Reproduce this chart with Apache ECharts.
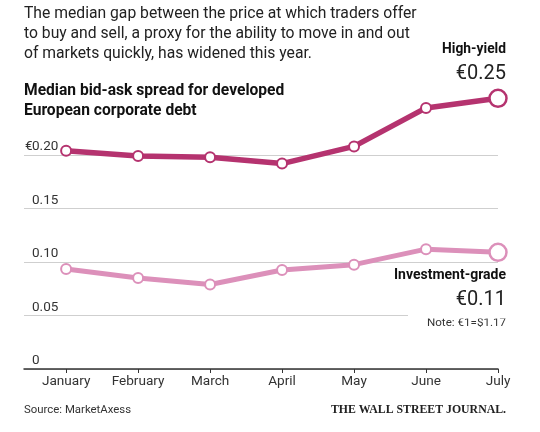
<!DOCTYPE html>
<html>
<head>
<meta charset="utf-8">
<script src="https://cdn.jsdelivr.net/npm/echarts@6/dist/echarts.min.js"></script>
<style>
  html, body { margin: 0; padding: 0; background: #fff; }
  #chart { width: 540px; height: 432px; }
</style>
</head>
<body>
<div id="chart"></div>
<script>
// data
const months = ['January', 'February', 'March', 'April', 'May', 'June', 'July'];
const highYield = [0.204, 0.199, 0.198, 0.192, 0.208, 0.244, 0.253];
const investGrade = [0.0935, 0.085, 0.079, 0.0925, 0.0975, 0.112, 0.109];
const yTicks = [0, 0.05, 0.1, 0.15, 0.2];

const hyColor = '#b5336f';
const igColor = '#dc90ba';
const font = 'Roboto, "Noto Sans", sans-serif';

const chart = echarts.init(document.getElementById('chart'));

// turn a series into [index, value] pairs, last point gets the big hollow marker
function toPoints(values, color) {
  return values.map(function (v, i) {
    const p = { value: [i, v] };
    if (i === values.length - 1) {
      p.symbolSize = 17;
      p.itemStyle = { color: '#fff', borderColor: color, borderWidth: 2.5 };
    }
    return p;
  });
}

function lineSeries(name, values, color, width) {
  return {
    name: name,
    type: 'line',
    clip: false,
    data: toPoints(values, color),
    symbol: 'circle',
    symbolSize: 10,
    showAllSymbol: true,
    lineStyle: { color: color, width: width },
    itemStyle: { color: '#fff', borderColor: color, borderWidth: 2 },
    emphasis: { disabled: true },
    z: 3
  };
}

const last = function (arr) { return arr[arr.length - 1]; };

chart.setOption({
  animation: false,
  backgroundColor: '#fff',
  grid: { left: 24, right: 42, top: 155, bottom: 63 },
  xAxis: {
    type: 'value',
    min: -0.585,
    max: months.length - 1,
    splitLine: { show: false },
    axisLine: { show: true, lineStyle: { color: '#333', width: 1.5 } },
    axisTick: {
      show: true,
      length: 4,
      customValues: months.map(function (m, i) { return i; }),
      lineStyle: { color: '#333', width: 1 }
    },
    axisLabel: {
      customValues: months.map(function (m, i) { return i; }),
      formatter: function (v) { return months[Math.round(v)] || ''; },
      color: '#333',
      fontFamily: font,
      fontSize: 13.6,
      margin: 6
    }
  },
  yAxis: {
    type: 'value',
    min: 0,
    max: 0.2,
    interval: 0.05,
    axisLine: { show: false },
    axisTick: { show: false },
    splitLine: { lineStyle: { color: '#cfcfcf', width: 1 } },
    axisLabel: {
      inside: true,
      margin: 8,
      align: 'left',
      verticalAlign: 'bottom',
      padding: [0, 0, 1, 0],
      color: '#333',
      fontFamily: font,
      fontSize: 13.5,
      formatter: function (v) {
        if (v === 0) return '0';
        return v.toFixed(2);
      }
    }
  },
  series: [
    lineSeries('Investment-grade', investGrade, igColor, 5),
    lineSeries('High-yield', highYield, hyColor, 5.5)
  ]
});

// euro sign hangs to the left of the top tick label; cover the 0.05 line under the note
const yTop = chart.convertToPixel({ yAxisIndex: 0 }, last(yTicks));
const y05 = chart.convertToPixel({ yAxisIndex: 0 }, yTicks[1]);

chart.setOption({
  graphic: [
    {
      type: 'text', left: 24, top: 4,
      style: {
        text: 'The median gap between the price at which traders offer\nto buy and sell, a proxy for the ability to move in and out\nof markets quickly, has widened this year.',
        font: '15.7px ' + font, fill: '#222', lineHeight: 20
      }
    },
    {
      type: 'text', left: 24, top: 81,
      style: {
        text: 'Median bid-ask spread for developed\nEuropean corporate debt',
        font: 'bold 15.6px ' + font, fill: '#111', lineHeight: 20
      }
    },
    {
      type: 'text', x: 32.5, y: yTop - 1,
      style: { text: '€', font: '13.5px ' + font, fill: '#333', align: 'right', verticalAlign: 'bottom' }
    },
    {
      type: 'rect', x: 408, y: y05 - 3, z: 1,
      shape: { width: 100, height: 6 },
      style: { fill: '#fff' }
    },
    {
      type: 'text', x: 506, y: 50,
      style: { text: 'High-yield', font: 'bold 13.8px ' + font, fill: '#111', align: 'right', verticalAlign: 'middle' }
    },
    {
      type: 'text', x: 506, y: 74,
      style: { text: '€' + last(highYield).toFixed(2), font: '20px ' + font, fill: '#222', align: 'right', verticalAlign: 'middle' }
    },
    {
      type: 'text', x: 506, y: 275,
      style: { text: 'Investment-grade', font: 'bold 14px ' + font, fill: '#111', align: 'right', verticalAlign: 'middle' }
    },
    {
      type: 'text', x: 506, y: 300,
      style: { text: '€' + last(investGrade).toFixed(2), font: '20px ' + font, fill: '#222', align: 'right', verticalAlign: 'middle' }
    },
    {
      type: 'text', x: 506, y: 323,
      style: { text: 'Note: €1=$1.17', font: '11.6px ' + font, fill: '#333', align: 'right', verticalAlign: 'middle' }
    },
    {
      type: 'text', x: 24, y: 410,
      style: { text: 'Source: MarketAxess', font: '11.4px ' + font, fill: '#333', verticalAlign: 'middle' }
    },
    {
      type: 'text', x: 506, y: 410,
      style: { text: 'THE WALL STREET JOURNAL.', font: 'bold 11.8px "Liberation Serif", "DejaVu Serif", serif', fill: '#222', align: 'right', verticalAlign: 'middle' }
    }
  ]
});
</script>
</body>
</html>
